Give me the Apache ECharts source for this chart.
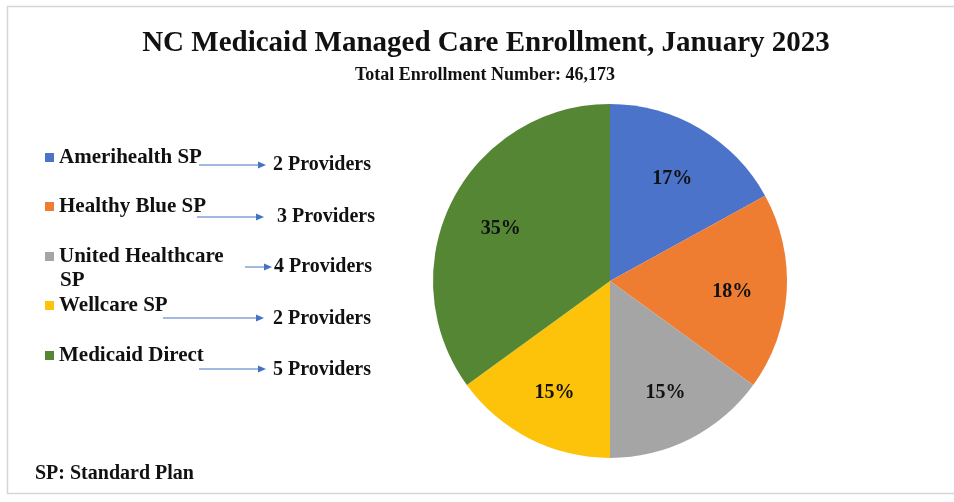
<!DOCTYPE html>
<html>
<head>
<meta charset="utf-8">
<script src="https://cdn.jsdelivr.net/npm/echarts@6/dist/echarts.min.js"></script>
<style>
html,body{margin:0;padding:0;background:#fff;}
#chart{width:954px;height:502px;}
</style>
</head>
<body>
<div id="chart"></div>
<script>
// ---- data ----
const plans = ['Amerihealth SP', 'Healthy Blue SP', 'United Healthcare SP', 'Wellcare SP', 'Medicaid Direct'];
const shares = [17, 18, 15, 15, 35];
const providers = [2, 3, 4, 2, 5];
const colors = ['#4a73c9', '#ee7d31', '#a5a5a5', '#fdc20a', '#558634'];
const titleText = 'NC Medicaid Managed Care Enrollment, January 2023';
const subtitleText = 'Total Enrollment Number: 46,173';
const noteText = 'SP: Standard Plan';

// ---- layout (positions only) ----
const serif = '"Liberation Serif", "Times New Roman", serif';
const legendY = [157, 206, 256, 305, 355];
const legendLabels = ['Amerihealth SP', 'Healthy Blue SP', 'United Healthcare', 'Wellcare SP', 'Medicaid Direct'];
const arrowRows = [
  {x1: 199, x2: 266, y: 165, tx: 273, ty: 165},
  {x1: 197, x2: 264, y: 217, tx: 277, ty: 217},
  {x1: 245, x2: 272, y: 267, tx: 274, ty: 267},
  {x1: 163, x2: 264, y: 318, tx: 273, ty: 319},
  {x1: 199, x2: 266, y: 369, tx: 273, ty: 370}
];

const pieData = plans.map((n, i) => ({name: n, value: shares[i], itemStyle: {color: colors[i]}}));

const legends = plans.map((n, i) => ({
  data: [n],
  orient: 'vertical',
  left: 45,
  top: legendY[i] - 10,
  itemWidth: 9,
  itemHeight: 9,
  icon: 'rect',
  selectedMode: false,
  padding: 0,
  formatter: () => legendLabels[i],
  textStyle: {fontFamily: serif, fontWeight: 'bold', fontSize: 21, color: '#111', lineHeight: 20}
}));

const graphics = [
  {type: 'rect', shape: {x: 7.5, y: 6.5, width: 960, height: 487}, style: {fill: 'none', stroke: '#d6d6d6', lineWidth: 1.5}, silent: true},
  {type: 'text', left: 60, top: 270, style: {text: 'SP', font: 'bold 21px ' + serif, fill: '#111'}},
  {type: 'text', left: 35, top: 464, style: {text: noteText, font: 'bold 20px ' + serif, fill: '#111'}}
];
arrowRows.forEach((a, i) => {
  graphics.push({type: 'line', shape: {x1: a.x1, y1: a.y, x2: a.x2 - 6, y2: a.y}, style: {stroke: '#4472c4', lineWidth: 1}});
  graphics.push({type: 'polygon', shape: {points: [[a.x2 - 8, a.y - 3.5], [a.x2, a.y], [a.x2 - 8, a.y + 3.5]]}, style: {fill: '#4472c4'}});
  graphics.push({type: 'text', x: a.tx, y: a.ty, style: {text: providers[i] + ' Providers', font: 'bold 20px ' + serif, fill: '#111', textVerticalAlign: 'middle'}});
});

const chart = echarts.init(document.getElementById('chart'), null, {renderer: 'canvas'});
chart.setOption({
  backgroundColor: '#ffffff',
  animation: false,
  title: [
    {text: titleText, left: 481, top: 24, textAlign: 'center',
     textStyle: {fontFamily: serif, fontWeight: 'bold', fontSize: 29, color: '#111'}},
    {text: subtitleText, left: 480, top: 61, textAlign: 'center',
     textStyle: {fontFamily: serif, fontWeight: 'bold', fontSize: 18, color: '#111'}}
  ],
  legend: legends,
  graphic: graphics,
  series: [
    {
      type: 'pie', name: 'share', center: [610, 281], radius: [0, 177], startAngle: 90, clockwise: true,
      data: pieData, label: {show: false}, labelLine: {show: false}, silent: true
    },
    {
      type: 'pie', name: 'labels', center: [610, 284], radius: [62, 177], startAngle: 90, clockwise: true,
      data: plans.map((n, i) => ({name: n, value: shares[i], itemStyle: {color: 'rgba(0,0,0,0)'}})),
      label: {show: true, position: 'inside', formatter: '{c}%', fontFamily: serif, fontWeight: 'bold', fontSize: 20, color: '#111'},
      labelLine: {show: false}, silent: true, legendHoverLink: false
    }
  ]
});
</script>
</body>
</html>
